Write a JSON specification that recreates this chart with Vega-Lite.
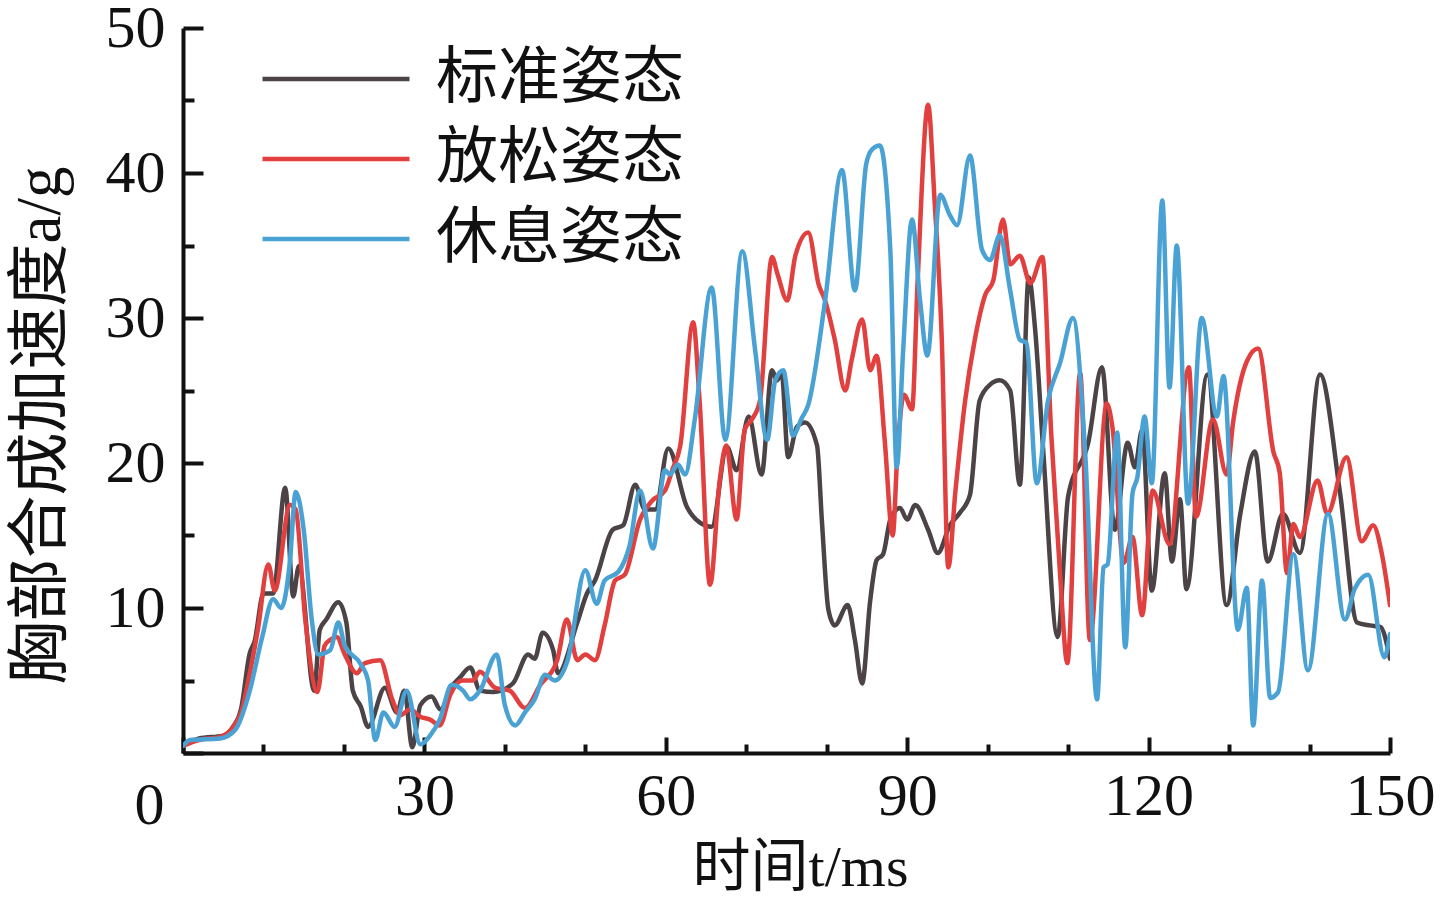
{
  "$schema": "https://vega.github.io/schema/vega-lite/v6.json",
  "autosize": "none",
  "padding": {"left": 183, "top": 28, "right": 57, "bottom": 161},
  "width": 1207,
  "height": 725,
  "background": "white",
  "datasets": {
    "accel": [
      {"s": "标准姿态", "t": 0, "a": 0.5}, {"s": "标准姿态", "t": 2, "a": 1.0}, {"s": "标准姿态", "t": 5, "a": 1.2},
      {"s": "标准姿态", "t": 6.2, "a": 1.8}, {"s": "标准姿态", "t": 7.2, "a": 3.0}, {"s": "标准姿态", "t": 8.3, "a": 6.9},
      {"s": "标准姿态", "t": 8.9, "a": 7.7}, {"s": "标准姿态", "t": 10.0, "a": 11.0}, {"s": "标准姿态", "t": 11.2, "a": 11.0},
      {"s": "标准姿态", "t": 12.7, "a": 18.3}, {"s": "标准姿态", "t": 13.7, "a": 10.8}, {"s": "标准姿态", "t": 14.4, "a": 12.9},
      {"s": "标准姿态", "t": 16.3, "a": 4.3}, {"s": "标准姿态", "t": 17.0, "a": 8.5}, {"s": "标准姿态", "t": 17.8, "a": 9.2},
      {"s": "标准姿态", "t": 19.3, "a": 10.4}, {"s": "标准姿态", "t": 20.3, "a": 9.0}, {"s": "标准姿态", "t": 21.1, "a": 4.3},
      {"s": "标准姿态", "t": 22.1, "a": 3.2}, {"s": "标准姿态", "t": 23.0, "a": 1.8}, {"s": "标准姿态", "t": 25.1, "a": 4.5},
      {"s": "标准姿态", "t": 26.6, "a": 2.8}, {"s": "标准姿态", "t": 27.5, "a": 4.3}, {"s": "标准姿态", "t": 28.5, "a": 0.4},
      {"s": "标准姿态", "t": 29.5, "a": 3.3}, {"s": "标准姿态", "t": 30.9, "a": 3.9}, {"s": "标准姿态", "t": 32.0, "a": 3.0},
      {"s": "标准姿态", "t": 33.3, "a": 4.5}, {"s": "标准姿态", "t": 34.4, "a": 5.2}, {"s": "标准姿态", "t": 35.7, "a": 5.9},
      {"s": "标准姿态", "t": 36.9, "a": 4.3}, {"s": "标准姿态", "t": 38.6, "a": 4.2}, {"s": "标准姿态", "t": 41.0, "a": 4.8},
      {"s": "标准姿态", "t": 42.9, "a": 6.8}, {"s": "标准姿态", "t": 43.7, "a": 6.5}, {"s": "标准姿态", "t": 44.7, "a": 8.3},
      {"s": "标准姿态", "t": 46.0, "a": 7.1}, {"s": "标准姿态", "t": 46.6, "a": 5.5}, {"s": "标准姿态", "t": 49.0, "a": 9.0},
      {"s": "标准姿态", "t": 50.2, "a": 11.0}, {"s": "标准姿态", "t": 51.2, "a": 11.9}, {"s": "标准姿态", "t": 53.4, "a": 15.4},
      {"s": "标准姿态", "t": 54.7, "a": 15.7}, {"s": "标准姿态", "t": 56.2, "a": 18.5}, {"s": "标准姿态", "t": 57.4, "a": 16.8},
      {"s": "标准姿态", "t": 58.7, "a": 16.8}, {"s": "标准姿态", "t": 60.3, "a": 21.0}, {"s": "标准姿态", "t": 62.6, "a": 17.0},
      {"s": "标准姿态", "t": 64.2, "a": 15.9}, {"s": "标准姿态", "t": 65.7, "a": 15.6}, {"s": "标准姿态", "t": 67.6, "a": 21.1},
      {"s": "标准姿态", "t": 68.8, "a": 19.5}, {"s": "标准姿态", "t": 70.3, "a": 23.2}, {"s": "标准姿态", "t": 71.9, "a": 19.2},
      {"s": "标准姿态", "t": 73.2, "a": 26.4}, {"s": "标准姿态", "t": 73.8, "a": 25.7}, {"s": "标准姿态", "t": 74.4, "a": 26.2},
      {"s": "标准姿态", "t": 75.2, "a": 20.4}, {"s": "标准姿态", "t": 76.3, "a": 22.5}, {"s": "标准姿态", "t": 77.3, "a": 22.8},
      {"s": "标准姿态", "t": 78.8, "a": 21.2}, {"s": "标准姿态", "t": 79.4, "a": 16.0}, {"s": "标准姿态", "t": 80.2, "a": 9.9},
      {"s": "标准姿态", "t": 81.0, "a": 8.8}, {"s": "标准姿态", "t": 82.6, "a": 10.2}, {"s": "标准姿态", "t": 83.5, "a": 7.8},
      {"s": "标准姿态", "t": 84.4, "a": 4.8}, {"s": "标准姿态", "t": 85.4, "a": 10.5}, {"s": "标准姿态", "t": 86.2, "a": 13.3},
      {"s": "标准姿态", "t": 87.0, "a": 13.7}, {"s": "标准姿态", "t": 87.9, "a": 16.1}, {"s": "标准姿态", "t": 89.1, "a": 16.9},
      {"s": "标准姿态", "t": 90.0, "a": 16.1}, {"s": "标准姿态", "t": 91.0, "a": 17.1}, {"s": "标准姿态", "t": 92.6, "a": 15.4},
      {"s": "标准姿态", "t": 93.8, "a": 13.8}, {"s": "标准姿态", "t": 95.3, "a": 15.7}, {"s": "标准姿态", "t": 96.6, "a": 16.6},
      {"s": "标准姿态", "t": 97.8, "a": 17.8}, {"s": "标准姿态", "t": 99.0, "a": 24.3}, {"s": "标准姿态", "t": 100.3, "a": 25.4},
      {"s": "标准姿态", "t": 101.5, "a": 25.7}, {"s": "标准姿态", "t": 102.8, "a": 25.0}, {"s": "标准姿态", "t": 104.0, "a": 18.5},
      {"s": "标准姿态", "t": 105.1, "a": 32.8}, {"s": "标准姿态", "t": 105.9, "a": 29.2}, {"s": "标准姿态", "t": 106.9, "a": 20.9},
      {"s": "标准姿态", "t": 108.7, "a": 8.0}, {"s": "标准姿态", "t": 110.0, "a": 17.7},
      {"s": "标准姿态", "t": 112.5, "a": 21.4}, {"s": "标准姿态", "t": 114.2, "a": 26.6}, {"s": "标准姿态", "t": 115.8, "a": 15.4},
      {"s": "标准姿态", "t": 117.4, "a": 21.4}, {"s": "标准姿态", "t": 118.3, "a": 19.7}, {"s": "标准姿态", "t": 119.2, "a": 22.3},
      {"s": "标准姿态", "t": 120.4, "a": 11.2}, {"s": "标准姿态", "t": 122.0, "a": 19.3}, {"s": "标准姿态", "t": 122.9, "a": 13.2},
      {"s": "标准姿态", "t": 123.9, "a": 17.5}, {"s": "标准姿态", "t": 124.7, "a": 11.3}, {"s": "标准姿态", "t": 127.3, "a": 26.1},
      {"s": "标准姿态", "t": 129.7, "a": 10.2}, {"s": "标准姿态", "t": 131.4, "a": 16.5}, {"s": "标准姿态", "t": 133.2, "a": 20.8},
      {"s": "标准姿态", "t": 134.8, "a": 13.2}, {"s": "标准姿态", "t": 136.7, "a": 16.5}, {"s": "标准姿态", "t": 138.8, "a": 13.8},
      {"s": "标准姿态", "t": 141.3, "a": 26.1}, {"s": "标准姿态", "t": 143.8, "a": 17.9}, {"s": "标准姿态", "t": 145.9, "a": 9.0},
      {"s": "标准姿态", "t": 147.5, "a": 8.8}, {"s": "标准姿态", "t": 148.8, "a": 8.7}, {"s": "标准姿态", "t": 150, "a": 6.5},

      {"s": "放松姿态", "t": 0, "a": 0.5}, {"s": "放松姿态", "t": 2, "a": 0.9}, {"s": "放松姿态", "t": 4.6, "a": 1.1},
      {"s": "放松姿态", "t": 7.1, "a": 2.6}, {"s": "放松姿态", "t": 8.3, "a": 5.5}, {"s": "放松姿态", "t": 9.3, "a": 8.5},
      {"s": "放松姿态", "t": 10.6, "a": 13.0}, {"s": "放松姿态", "t": 11.4, "a": 11.2}, {"s": "放松姿态", "t": 13.3, "a": 17.1},
      {"s": "放松姿态", "t": 14.0, "a": 16.8}, {"s": "放松姿态", "t": 15.2, "a": 9.2}, {"s": "放松姿态", "t": 16.7, "a": 4.2},
      {"s": "放松姿态", "t": 17.6, "a": 7.4}, {"s": "放松姿态", "t": 18.3, "a": 7.8}, {"s": "放松姿态", "t": 19.1, "a": 8.0},
      {"s": "放松姿态", "t": 20.1, "a": 6.8}, {"s": "放松姿态", "t": 21.6, "a": 5.5}, {"s": "放松姿态", "t": 22.6, "a": 6.2},
      {"s": "放松姿态", "t": 24.5, "a": 6.4}, {"s": "放松姿态", "t": 26.0, "a": 3.7}, {"s": "放松姿态", "t": 27.0, "a": 2.6},
      {"s": "放松姿态", "t": 28.2, "a": 3.0}, {"s": "放松姿态", "t": 29.5, "a": 2.5}, {"s": "放松姿态", "t": 30.7, "a": 2.3},
      {"s": "放松姿态", "t": 31.9, "a": 1.9}, {"s": "放松姿态", "t": 33.2, "a": 4.0}, {"s": "放松姿态", "t": 34.7, "a": 5.0},
      {"s": "放松姿态", "t": 36.0, "a": 5.0}, {"s": "放松姿态", "t": 36.9, "a": 5.6}, {"s": "放松姿态", "t": 38.8, "a": 4.5},
      {"s": "放松姿态", "t": 40.6, "a": 4.3}, {"s": "放松姿态", "t": 42.5, "a": 3.1}, {"s": "放松姿态", "t": 44.4, "a": 4.7},
      {"s": "放松姿态", "t": 46.5, "a": 6.4}, {"s": "放松姿态", "t": 47.7, "a": 9.2}, {"s": "放松姿态", "t": 49.0, "a": 6.4},
      {"s": "放松姿态", "t": 50.0, "a": 6.8}, {"s": "放松姿态", "t": 51.2, "a": 6.4}, {"s": "放松姿态", "t": 52.4, "a": 8.8},
      {"s": "放松姿态", "t": 53.7, "a": 11.9}, {"s": "放松姿态", "t": 54.9, "a": 12.3}, {"s": "放松姿态", "t": 56.8, "a": 16.1},
      {"s": "放松姿态", "t": 58.3, "a": 17.4}, {"s": "放松姿态", "t": 59.9, "a": 18.1}, {"s": "放松姿态", "t": 60.8, "a": 19.5},
      {"s": "放松姿态", "t": 61.8, "a": 21.2}, {"s": "放松姿态", "t": 63.4, "a": 29.7}, {"s": "放松姿态", "t": 64.2, "a": 24.3},
      {"s": "放松姿态", "t": 65.5, "a": 11.6}, {"s": "放松姿态", "t": 66.7, "a": 18.8}, {"s": "放松姿态", "t": 67.5, "a": 21.2},
      {"s": "放松姿态", "t": 68.8, "a": 16.1}, {"s": "放松姿态", "t": 69.8, "a": 22.3}, {"s": "放松姿态", "t": 70.7, "a": 23.0},
      {"s": "放松姿态", "t": 71.7, "a": 24.3}, {"s": "放松姿态", "t": 73.2, "a": 34.2}, {"s": "放松姿态", "t": 73.9, "a": 33.0},
      {"s": "放松姿态", "t": 75.1, "a": 31.2}, {"s": "放松姿态", "t": 76.1, "a": 34.3}, {"s": "放松姿态", "t": 77.7, "a": 35.9},
      {"s": "放松姿态", "t": 79.0, "a": 32.3}, {"s": "放松姿态", "t": 79.8, "a": 31.2}, {"s": "放松姿态", "t": 81.0, "a": 28.5},
      {"s": "放松姿态", "t": 82.3, "a": 25.0}, {"s": "放松姿态", "t": 83.1, "a": 27.1}, {"s": "放松姿态", "t": 84.4, "a": 29.9},
      {"s": "放松姿态", "t": 85.4, "a": 26.4}, {"s": "放松姿态", "t": 86.2, "a": 27.4}, {"s": "放松姿态", "t": 87.2, "a": 21.6},
      {"s": "放松姿态", "t": 88.2, "a": 15.0}, {"s": "放松姿态", "t": 88.8, "a": 20.9}, {"s": "放松姿态", "t": 89.6, "a": 24.7},
      {"s": "放松姿态", "t": 90.6, "a": 23.7}, {"s": "放松姿态", "t": 91.3, "a": 32.6}, {"s": "放松姿态", "t": 92.6, "a": 44.7},
      {"s": "放松姿态", "t": 93.4, "a": 38.1}, {"s": "放松姿态", "t": 94.3, "a": 28.5}, {"s": "放松姿态", "t": 95.1, "a": 12.8},
      {"s": "放松姿态", "t": 96.0, "a": 18.1}, {"s": "放松姿态", "t": 97.2, "a": 24.3}, {"s": "放松姿态", "t": 98.4, "a": 28.5},
      {"s": "放松姿态", "t": 99.7, "a": 31.6}, {"s": "放松姿态", "t": 100.7, "a": 32.6}, {"s": "放松姿态", "t": 101.9, "a": 36.8},
      {"s": "放松姿态", "t": 102.8, "a": 33.7}, {"s": "放松姿态", "t": 104.0, "a": 34.3}, {"s": "放松姿态", "t": 105.3, "a": 32.4},
      {"s": "放松姿态", "t": 106.8, "a": 34.2}, {"s": "放松姿态", "t": 107.9, "a": 22.0}, {"s": "放松姿态", "t": 109.0, "a": 12.3},
      {"s": "放松姿态", "t": 109.9, "a": 6.2}, {"s": "放松姿态", "t": 111.5, "a": 26.2}, {"s": "放松姿态", "t": 112.7, "a": 7.8},
      {"s": "放松姿态", "t": 114.8, "a": 24.1}, {"s": "放松姿态", "t": 115.5, "a": 22.5}, {"s": "放松姿态", "t": 116.9, "a": 13.1},
      {"s": "放松姿态", "t": 118.0, "a": 14.9}, {"s": "放松姿态", "t": 119.2, "a": 9.5}, {"s": "放松姿态", "t": 120.5, "a": 18.1},
      {"s": "放松姿态", "t": 122.6, "a": 14.4}, {"s": "放松姿态", "t": 125.0, "a": 26.6}, {"s": "放松姿态", "t": 125.9, "a": 16.3},
      {"s": "放松姿态", "t": 128.0, "a": 23.0}, {"s": "放松姿态", "t": 129.7, "a": 19.2}, {"s": "放松姿态", "t": 130.5, "a": 22.8},
      {"s": "放松姿态", "t": 132.2, "a": 27.0}, {"s": "放松姿态", "t": 133.6, "a": 27.9}, {"s": "放松姿态", "t": 135.5, "a": 20.8},
      {"s": "放松姿态", "t": 136.3, "a": 19.3}, {"s": "放松姿态", "t": 137.2, "a": 12.4}, {"s": "放松姿态", "t": 138.0, "a": 15.8},
      {"s": "放松姿态", "t": 138.8, "a": 14.9}, {"s": "放松姿态", "t": 141.0, "a": 18.8}, {"s": "放松姿态", "t": 142.2, "a": 16.5},
      {"s": "放松姿态", "t": 144.6, "a": 20.4}, {"s": "放松姿态", "t": 146.5, "a": 14.6}, {"s": "放松姿态", "t": 147.9, "a": 15.7},
      {"s": "放松姿态", "t": 149.0, "a": 13.7}, {"s": "放松姿态", "t": 150, "a": 10.2},

      {"s": "休息姿态", "t": 0, "a": 0.5}, {"s": "休息姿态", "t": 0.9, "a": 0.9}, {"s": "休息姿态", "t": 4.6, "a": 1.0},
      {"s": "休息姿态", "t": 6.5, "a": 1.6}, {"s": "休息姿态", "t": 8.3, "a": 4.3}, {"s": "休息姿态", "t": 9.8, "a": 7.9},
      {"s": "休息姿态", "t": 11.2, "a": 10.6}, {"s": "休息姿态", "t": 12.2, "a": 10.0}, {"s": "休息姿态", "t": 13.3, "a": 13.3},
      {"s": "休息姿态", "t": 14.0, "a": 18.0}, {"s": "休息姿态", "t": 15.0, "a": 15.4}, {"s": "休息姿态", "t": 16.0, "a": 9.2},
      {"s": "休息姿态", "t": 16.8, "a": 6.8}, {"s": "休息姿态", "t": 18.3, "a": 7.1}, {"s": "休息姿态", "t": 19.3, "a": 9.0},
      {"s": "休息姿态", "t": 20.1, "a": 7.4}, {"s": "休息姿态", "t": 22.0, "a": 6.2}, {"s": "休息姿态", "t": 23.0, "a": 5.0},
      {"s": "休息姿态", "t": 23.9, "a": 0.9}, {"s": "休息姿态", "t": 24.9, "a": 2.8}, {"s": "休息姿态", "t": 26.3, "a": 1.8},
      {"s": "休息姿态", "t": 27.8, "a": 4.3}, {"s": "休息姿态", "t": 29.5, "a": 0.6}, {"s": "休息姿态", "t": 30.7, "a": 1.2},
      {"s": "休息姿态", "t": 31.9, "a": 2.3}, {"s": "休息姿态", "t": 33.4, "a": 4.7}, {"s": "休息姿态", "t": 34.8, "a": 4.3},
      {"s": "休息姿态", "t": 35.7, "a": 3.7}, {"s": "休息姿态", "t": 36.9, "a": 4.3}, {"s": "休息姿态", "t": 39.0, "a": 6.8},
      {"s": "休息姿态", "t": 40.0, "a": 3.3}, {"s": "休息姿态", "t": 41.3, "a": 1.9}, {"s": "休息姿态", "t": 42.5, "a": 2.8},
      {"s": "休息姿态", "t": 43.7, "a": 3.7}, {"s": "休息姿态", "t": 45.0, "a": 5.4}, {"s": "休息姿态", "t": 46.2, "a": 5.0},
      {"s": "休息姿态", "t": 47.8, "a": 6.4}, {"s": "休息姿态", "t": 50.0, "a": 12.6}, {"s": "休息姿态", "t": 51.4, "a": 10.3},
      {"s": "休息姿态", "t": 52.4, "a": 11.9}, {"s": "休息姿态", "t": 54.1, "a": 12.5}, {"s": "休息姿态", "t": 55.5, "a": 14.3},
      {"s": "休息姿态", "t": 56.8, "a": 18.1}, {"s": "休息姿态", "t": 58.4, "a": 14.1}, {"s": "休息姿态", "t": 59.9, "a": 19.5},
      {"s": "休息姿态", "t": 60.5, "a": 19.2}, {"s": "休息姿态", "t": 61.5, "a": 19.9}, {"s": "休息姿态", "t": 62.4, "a": 19.2},
      {"s": "休息姿态", "t": 63.6, "a": 23.0}, {"s": "休息姿态", "t": 65.7, "a": 32.1}, {"s": "休息姿态", "t": 67.4, "a": 21.6},
      {"s": "休息姿态", "t": 69.5, "a": 34.6}, {"s": "休息姿态", "t": 71.1, "a": 27.8}, {"s": "休息姿态", "t": 72.6, "a": 21.6},
      {"s": "休息姿态", "t": 73.6, "a": 25.7}, {"s": "休息姿态", "t": 74.6, "a": 26.4}, {"s": "休息姿态", "t": 75.8, "a": 21.9},
      {"s": "休息姿态", "t": 76.9, "a": 23.1}, {"s": "休息姿态", "t": 77.7, "a": 24.0}, {"s": "休息姿态", "t": 79.8, "a": 31.2},
      {"s": "休息姿态", "t": 81.9, "a": 40.2}, {"s": "休息姿态", "t": 83.5, "a": 31.9}, {"s": "休息姿态", "t": 84.9, "a": 40.6},
      {"s": "休息姿态", "t": 85.6, "a": 41.6}, {"s": "休息姿态", "t": 86.6, "a": 41.9}, {"s": "休息姿态", "t": 87.9, "a": 34.7},
      {"s": "休息姿态", "t": 88.7, "a": 19.7}, {"s": "休息姿态", "t": 89.5, "a": 27.8}, {"s": "休息姿态", "t": 90.6, "a": 36.8},
      {"s": "休息姿态", "t": 91.6, "a": 31.2}, {"s": "休息姿态", "t": 92.5, "a": 27.4}, {"s": "休息姿态", "t": 94.1, "a": 38.5},
      {"s": "休息姿态", "t": 95.3, "a": 37.1}, {"s": "休息姿态", "t": 96.2, "a": 36.4}, {"s": "休息姿态", "t": 97.8, "a": 41.2},
      {"s": "休息姿态", "t": 99.3, "a": 34.7}, {"s": "休息姿态", "t": 100.3, "a": 34.0}, {"s": "休息姿态", "t": 101.5, "a": 35.7},
      {"s": "休息姿态", "t": 102.8, "a": 31.9}, {"s": "休息姿态", "t": 104.0, "a": 28.5}, {"s": "休息姿态", "t": 104.8, "a": 28.3},
      {"s": "休息姿态", "t": 106.1, "a": 18.6}, {"s": "休息姿态", "t": 107.5, "a": 24.3}, {"s": "休息姿态", "t": 109.0, "a": 26.9},
      {"s": "休息姿态", "t": 110.6, "a": 30.0}, {"s": "休息姿态", "t": 112.1, "a": 20.9}, {"s": "休息姿态", "t": 113.6, "a": 3.7},
      {"s": "休息姿态", "t": 114.4, "a": 12.8}, {"s": "休息姿态", "t": 114.9, "a": 13.0}, {"s": "休息姿态", "t": 116.1, "a": 22.1},
      {"s": "休息姿态", "t": 117.1, "a": 7.3}, {"s": "休息姿态", "t": 118.0, "a": 17.9}, {"s": "休息姿态", "t": 118.6, "a": 19.0},
      {"s": "休息姿态", "t": 119.5, "a": 23.2}, {"s": "休息姿态", "t": 120.4, "a": 18.6}, {"s": "休息姿态", "t": 121.7, "a": 38.1},
      {"s": "休息姿态", "t": 122.6, "a": 25.2}, {"s": "休息姿态", "t": 123.5, "a": 35.0}, {"s": "休息姿态", "t": 124.9, "a": 17.2},
      {"s": "休息姿态", "t": 126.6, "a": 30.0}, {"s": "休息姿态", "t": 128.5, "a": 23.2}, {"s": "休息姿态", "t": 129.3, "a": 26.0},
      {"s": "休息姿态", "t": 131.1, "a": 8.5}, {"s": "休息姿态", "t": 132.2, "a": 11.4}, {"s": "休息姿态", "t": 133.0, "a": 1.9},
      {"s": "休息姿态", "t": 134.1, "a": 11.9}, {"s": "休息姿态", "t": 135.1, "a": 3.8}, {"s": "休息姿态", "t": 136.1, "a": 4.2},
      {"s": "休息姿态", "t": 138.0, "a": 13.7}, {"s": "休息姿态", "t": 139.8, "a": 5.7}, {"s": "休息姿态", "t": 142.3, "a": 16.5},
      {"s": "休息姿态", "t": 144.4, "a": 9.2}, {"s": "休息姿态", "t": 145.6, "a": 11.3}, {"s": "休息姿态", "t": 147.3, "a": 12.3},
      {"s": "休息姿态", "t": 149.3, "a": 6.6}, {"s": "休息姿态", "t": 150, "a": 8.2}
    ]
  },
  "data": {"name": "accel"},
  "mark": {"type": "line", "interpolate": "monotone", "strokeWidth": 4.5, "strokeCap": "round", "strokeJoin": "round", "clip": true},
  "encoding": {
    "x": {
      "field": "t",
      "type": "quantitative",
      "scale": {"domain": [0, 150], "nice": false},
      "axis": {
        "title": "时间t/ms",
        "titleFontSize": 58,
        "values": [0, 10, 20, 30, 40, 50, 60, 70, 80, 90, 100, 110, 120, 130, 140, 150],
        "labelExpr": "datum.value % 30 === 0 ? datum.label : ''",
        "labelFlush": false,
        "tickSize": {"condition": {"test": "datum.value % 30 === 0", "value": -16}, "value": -9},
        "labelOffset": {"condition": {"test": "datum.value === 0", "value": -34}, "value": 0},
        "labelPadding": {"condition": {"test": "datum.value === 0", "value": 39}, "value": 30},
        "labelBaseline": "top",
        "titleX": 617,
        "titleY": 115,
        "titleBaseline": "middle"
      }
    },
    "y": {
      "field": "a",
      "type": "quantitative",
      "scale": {"domain": [0, 50], "nice": false},
      "axis": {
        "title": "胸部合成加速度a/g",
        "titleFontSize": 63,
        "values": [0, 5, 10, 15, 20, 25, 30, 35, 40, 45, 50],
        "labelExpr": "datum.value % 10 === 0 && datum.value > 0 ? datum.label : ''",
        "tickSize": {"condition": {"test": "datum.value % 10 === 0", "value": -20}, "value": -11},
        "labelPadding": 38,
        "titleX": -143,
        "titleY": 397,
        "titleBaseline": "middle"
      }
    },
    "color": {
      "field": "s",
      "type": "nominal",
      "sort": ["标准姿态", "放松姿态", "休息姿态"],
      "scale": {"domain": ["标准姿态", "放松姿态", "休息姿态"], "range": ["#4b4345", "#e1403f", "#4aa2d4"]},
      "legend": {
        "title": null,
        "orient": "none",
        "legendX": 77,
        "legendY": 11,
        "symbolType": "stroke",
        "symbolSize": 21609,
        "symbolStrokeWidth": 4.5,
        "labelFont": "Liberation Serif, Noto Sans CJK SC",
        "labelFontSize": 62,
        "labelLimit": 0,
        "labelColor": "#111111",
        "labelOffset": 24,
        "rowPadding": 0,
        "clipHeight": 80
      }
    }
  },
  "config": {
    "view": {"stroke": null},
    "axis": {
      "grid": false,
      "domainColor": "#111111",
      "domainWidth": 4,
      "tickColor": "#111111",
      "tickWidth": 4,
      "labelFont": "Liberation Serif",
      "labelFontSize": 60,
      "labelColor": "#111111",
      "titleFont": "Liberation Serif, Noto Sans CJK SC",
      "titleFontWeight": "normal",
      "titleColor": "#111111"
    }
  }
}
